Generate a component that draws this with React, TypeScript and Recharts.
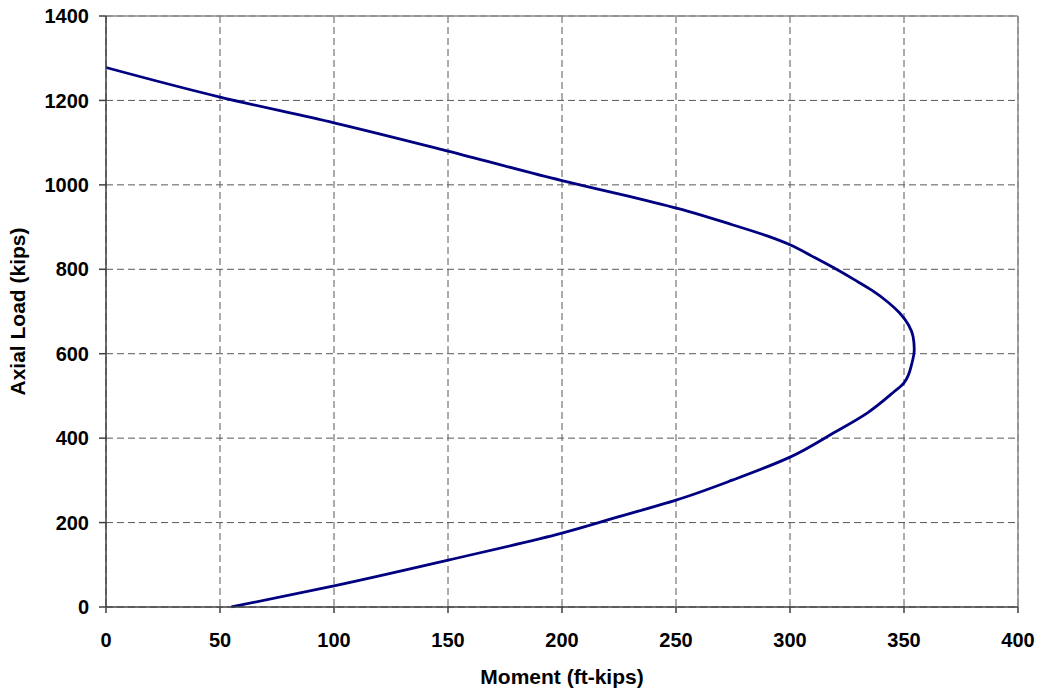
import { LineChart, Line, XAxis, YAxis, CartesianGrid, ReferenceLine } from 'recharts';

// interaction diagram, from pure bending up to pure compression
const momentFtKips = [55, 100, 150, 200, 225, 250, 275, 300, 319, 334, 345, 350, 353.5, 354.5, 354, 352, 348, 343, 336, 328, 319, 310, 300, 290, 275, 255, 230, 200, 150, 100, 50, 0];
const axialKips = [0, 50, 111, 175, 214, 253, 301, 355, 412, 460, 507, 531, 578, 610, 640, 668, 697, 722, 750, 776, 804, 830, 858, 879, 905, 938, 972, 1010, 1080, 1147, 1208, 1278];

const xTicks = [0, 50, 100, 150, 200, 250, 300, 350, 400];
const yTicks = [0, 200, 400, 600, 800, 1000, 1200, 1400];

const FONT = '"Liberation Sans", Arial, sans-serif';
const AXIS = '#404040';
const GRID = '#595959';

export default function App() {
  const data = momentFtKips.map((m, i) => ({ m, p: axialKips[i] }));

  return (
    <div style={{ position: 'absolute', left: 0, top: 0, background: '#fff' }}>
      <LineChart width={1039} height={691} data={data} margin={{ top: 16, right: 21, bottom: 0, left: 0 }}>
        <CartesianGrid stroke={GRID} strokeDasharray="7 4" verticalValues={xTicks} horizontalValues={yTicks} />
        <ReferenceLine y={1400} stroke="#8c8c8c" strokeWidth={1.5} />
        <ReferenceLine x={400} stroke="#8c8c8c" strokeWidth={1.5} />
        <XAxis
          type="number"
          dataKey="m"
          domain={[0, 400]}
          ticks={xTicks}
          height={84}
          stroke={AXIS}
          strokeWidth={1.5}
          tickSize={6}
          tickMargin={20}
          tick={{ fill: '#000', fontSize: 20, fontWeight: 'bold', fontFamily: FONT }}
          label={{ value: 'Moment (ft-kips)', position: 'insideBottom', offset: 7, fill: '#000', fontSize: 21, fontWeight: 'bold', fontFamily: FONT }}
        />
        <YAxis
          type="number"
          domain={[0, 1400]}
          ticks={yTicks}
          width={106}
          stroke={AXIS}
          strokeWidth={1.5}
          tickSize={7}
          tickMargin={10}
          tick={{ fill: '#000', fontSize: 20, fontWeight: 'bold', fontFamily: FONT }}
          label={{ value: 'Axial Load (kips)', angle: -90, position: 'insideLeft', offset: 18, fill: '#000', fontSize: 21, fontWeight: 'bold', fontFamily: FONT, style: { textAnchor: 'middle' } }}
        />
        <Line type="monotoneY" dataKey="p" stroke="#000080" strokeWidth={2.8} dot={false} isAnimationActive={false} />
      </LineChart>
    </div>
  );
}
